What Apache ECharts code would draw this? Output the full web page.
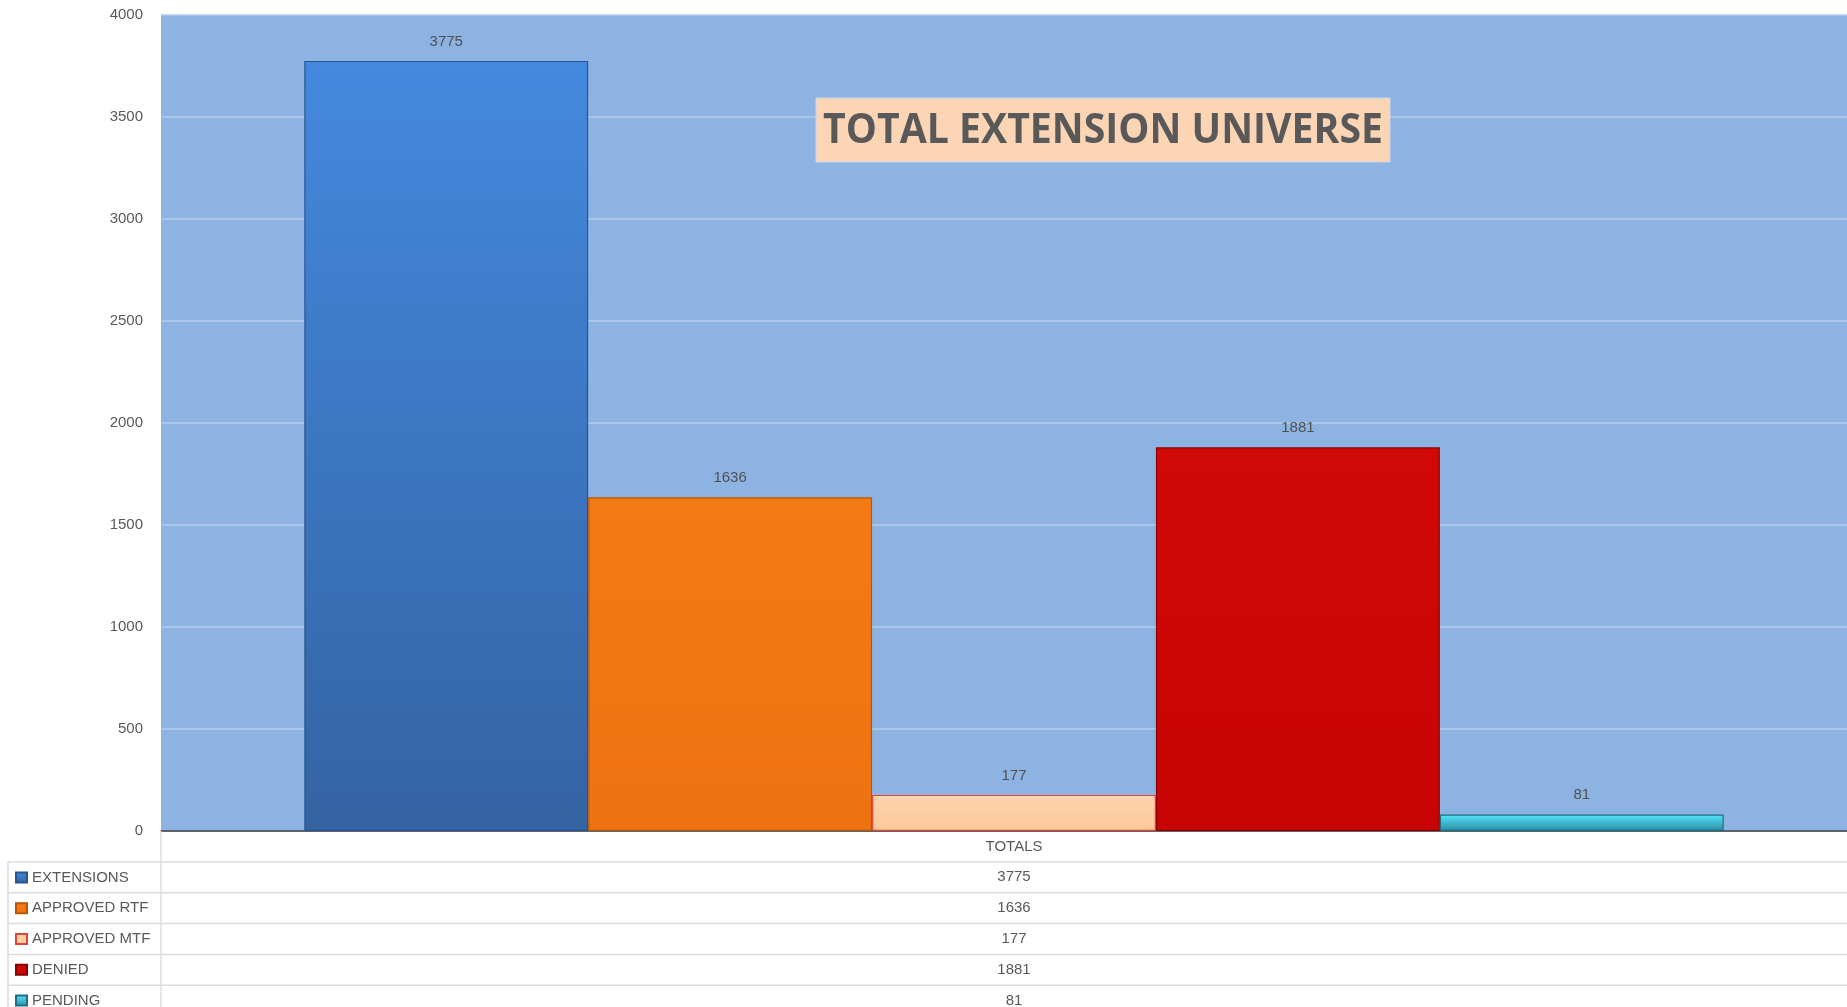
<!DOCTYPE html>
<html>
<head>
<meta charset="utf-8">
<script src="https://cdn.jsdelivr.net/npm/echarts@6/dist/echarts.min.js"></script>
<style>
html,body{margin:0;padding:0;background:#fff;overflow:hidden;}
#c{width:1867px;height:1040px;}
</style>
</head>
<body>
<div id="c"></div>
<script>
// ---- data ----
const categories = ['TOTALS'];
const seriesNames = ['EXTENSIONS', 'APPROVED RTF', 'APPROVED MTF', 'DENIED', 'PENDING'];
const seriesValues = [3775, 1636, 177, 1881, 81];
const yMin = 0, yMax = 4000, yInterval = 500;
const titleText = 'TOTAL EXTENSION UNIVERSE';

// ---- styles ----
const grad = (a, b) => new echarts.graphic.LinearGradient(0, 0, 0, 1, [{offset: 0, color: a}, {offset: 1, color: b}]);
const fills = [
  grad('#4489de', '#3463a3'),
  grad('#f47a14', '#ef7210'),
  grad('#fdd3ad', '#fdc99a'),
  grad('#d10808', '#c80404'),
  grad('#55e6fb', '#2a8ca5')
];
const borders = ['#2b5590', '#b85806', '#e0453a', '#8a0000', '#1f6f82'];

const W = 1867, H = 1040;
const plotLeft = 161, plotTop = 15, axisY = 831;
const tableLeft = 8, rowTop = 862, rowH = 30.8;
const lineColor = '#dcdcdc';

const chart = echarts.init(document.getElementById('c'));

// measure title to fit reference width
const cv = document.createElement('canvas').getContext('2d');
const titleFont = 42;
cv.font = 'bold ' + titleFont + 'px "Open Sans"';
const tw = cv.measureText(titleText).width;
const titleScale = 560 / tw;

const graphics = [];
graphics.push({type: 'rect', z: 100, shape: {x: 816, y: 98, width: 574, height: 64}, style: {fill: '#fcd5b4', stroke: '#c5d6ee', lineWidth: 1}});
graphics.push({type: 'text', z: 101, x: 1103, y: 131, scaleX: titleScale,
  style: {text: titleText, font: 'bold ' + titleFont + 'px "Open Sans"', fill: '#595959', textAlign: 'center', textVerticalAlign: 'middle'}});
for (let i = 0; i <= seriesNames.length; i++) {
  const y = rowTop + i * rowH;
  graphics.push({type: 'line', z: 1, shape: {x1: tableLeft, y1: y, x2: W, y2: y}, style: {stroke: lineColor, lineWidth: 1.5}});
}
graphics.push({type: 'line', z: 1, shape: {x1: plotLeft, y1: axisY, x2: plotLeft, y2: H}, style: {stroke: lineColor, lineWidth: 1.5}});
graphics.push({type: 'line', z: 1, shape: {x1: tableLeft, y1: rowTop, x2: tableLeft, y2: H}, style: {stroke: lineColor, lineWidth: 1.5}});

const series = seriesNames.map((n, i) => ({
  name: n,
  type: 'bar',
  data: [seriesValues[i]],
  barGap: '0%',
  barCategoryGap: '16.8%',
  itemStyle: {color: fills[i], borderColor: borders[i], borderWidth: 1.2},
  label: {show: true, position: 'top', distance: 12, fontSize: 15, color: '#505050', fontFamily: 'Liberation Sans'},
  emphasis: {disabled: true}
}));

chart.setOption({
  animation: false,
  backgroundColor: '#ffffff',
  textStyle: {fontFamily: 'Liberation Sans'},
  grid: {left: plotLeft, top: plotTop, right: 0, bottom: H - axisY, containLabel: false, outerBoundsMode: 'none',
    show: true, backgroundColor: '#8db3e2', borderWidth: 0},
  legend: {
    orient: 'vertical', left: 10, top: rowTop + rowH / 2 - 13,
    itemWidth: 11, itemHeight: 10, itemGap: rowH - 16, itemTextGap: 5,
    icon: 'rect', selectedMode: false,
    textStyle: {fontSize: 15, lineHeight: 16, color: '#595959', fontFamily: 'Liberation Sans'},
    data: seriesNames
  },
  xAxis: {
    type: 'category', data: categories,
    axisLine: {show: true, lineStyle: {color: '#3f3f3f', width: 1.5}},
    axisTick: {show: false},
    axisLabel: {
      margin: 0, fontSize: 15, lineHeight: rowH, color: '#595959', fontFamily: 'Liberation Sans',
      formatter: (v) => [v].concat(seriesValues.map(String)).join('\n')
    }
  },
  yAxis: {
    type: 'value', min: yMin, max: yMax, interval: yInterval,
    axisLine: {show: false}, axisTick: {show: false},
    axisLabel: {margin: 18, fontSize: 15, color: '#595959', fontFamily: 'Liberation Sans', formatter: (v) => String(v)},
    splitLine: {lineStyle: {color: '#b3cbea', width: 1.5}}
  },
  series: series,
  graphic: graphics
});
</script>
</body>
</html>
